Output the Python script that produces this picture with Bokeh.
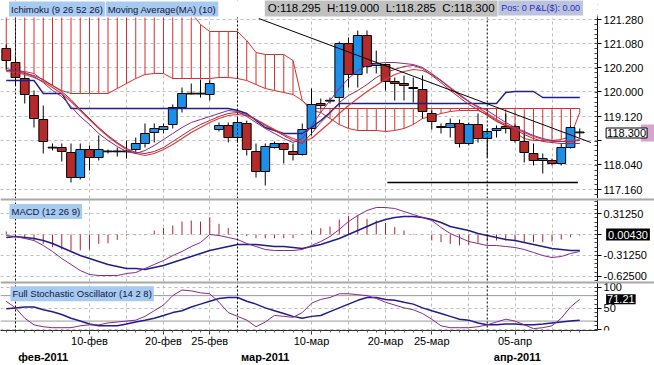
from bokeh.plotting import figure
from bokeh.models import Range1d, FixedTicker, Span, Label, BoxAnnotation, Grid, LinearAxis
from bokeh.layouts import column
from bokeh.embed import file_html
from bokeh.resources import INLINE

FONT = "Liberation Sans"

# ---------------- data (bar index 0 = 31 Jan 2011, 62 = 13 Apr 2011) ----------------
bars = list(range(63))

opens = [120.55, 120.20, 119.80, 119.375, 118.775, 118.075, 118.075, 117.95, 117.325, 118.025,
         117.825, 117.975, 117.98, 117.975, 118.025, 118.175, 118.45, 118.525, 118.65, 119.075,
         119.425, 119.42, 119.40, 118.525, 118.625, 118.325, 118.675, 117.975, 117.475, 118.075,
         118.175, 117.975, 117.90, 118.55, 119.175, 119.24, 119.325, 120.675, 119.90, 120.875,
         120.125, 120.15, 119.725, 119.675, 119.575, 119.525, 118.925, 118.60, 118.575, 118.675,
         118.175, 118.65, 118.30, 118.50, 118.60, 118.60, 118.225, 117.925, 117.75, 117.75,
         117.675, 118.075, 118.45]
highs = [120.65, 120.325, 119.95, 119.50, 119.125, 118.175, 118.175, 118.175, 118.175, 118.125,
         118.375, 118.025, 118.075, 118.25, 118.325, 118.675, 118.675, 118.675, 119.15, 119.575,
         119.675, 119.775, 119.775, 118.70, 118.70, 118.825, 118.75, 118.175, 118.175, 118.225,
         118.20, 118.175, 118.675, 119.55, 119.30, 119.325, 120.725, 120.825, 121.00, 121.00,
         120.50, 120.175, 119.825, 119.875, 119.825, 119.875, 119.00, 118.675, 118.80, 118.775,
         118.70, 118.925, 118.55, 118.625, 118.925, 118.65, 118.50, 118.175, 117.925, 117.80,
         118.175, 118.625, 118.55]
lows = [120.025, 119.625, 119.175, 118.575, 117.925, 118.00, 117.725, 117.20, 117.275, 117.50,
        117.75, 117.925, 117.85, 117.80, 117.95, 118.075, 118.20, 118.425, 118.55, 118.95,
        119.40, 119.325, 119.25, 118.475, 118.20, 118.20, 117.875, 117.325, 117.125, 118.05,
        117.675, 117.75, 117.875, 118.375, 119.05, 119.175, 119.075, 119.575, 119.575, 119.925,
        119.925, 119.50, 119.25, 119.25, 119.20, 118.80, 118.525, 118.425, 118.325, 118.075,
        118.125, 118.20, 117.825, 118.325, 118.425, 118.20, 117.70, 117.625, 117.425, 117.625,
        117.625, 118.05, 118.325]
closes = [120.25, 119.825, 119.40, 118.80, 118.225, 118.07, 117.975, 117.325, 118.025, 117.825,
          118.025, 117.98, 117.975, 117.98, 118.175, 118.425, 118.55, 118.60, 119.075, 119.425,
          119.42, 119.425, 119.675, 118.625, 118.325, 118.70, 118.025, 117.475, 118.10, 118.175,
          118.025, 117.90, 118.525, 119.15, 119.125, 119.25, 120.675, 119.90, 120.875, 120.10,
          120.175, 119.725, 119.675, 119.625, 119.55, 118.975, 118.725, 118.575, 118.675, 118.175,
          118.65, 118.30, 118.475, 118.55, 118.55, 118.25, 117.95, 117.75, 117.80, 117.675,
          118.075, 118.575, 118.455]

ma_fast = [120.05, 120.00, 119.95, 119.85, 119.70, 119.50, 119.35, 119.10, 118.85, 118.65,
           118.425, 118.25, 118.10, 117.975, 117.925, 118.00, 118.125, 118.275, 118.425, 118.575,
           118.70, 118.775, 118.85, 118.925, 119.00, 118.975, 118.85, 118.70, 118.55, 118.425,
           118.30, 118.20, 118.30, 118.625, 118.95, 119.25, 119.55, 119.80, 120.00, 120.125,
           120.175, 120.20, 120.20, 120.175, 120.15, 120.075, 119.925, 119.75, 119.55, 119.375,
           119.225, 119.10, 119.00, 118.85, 118.70, 118.575, 118.475, 118.375, 118.30, 118.25,
           118.225, 118.225, 118.25]
ma_mid = [120.00, 119.975, 119.925, 119.875, 119.775, 119.625, 119.475, 119.275, 119.025, 118.80,
          118.575, 118.375, 118.20, 118.05, 117.95, 117.925, 117.975, 118.075, 118.225, 118.375,
          118.525, 118.65, 118.75, 118.85, 118.925, 118.95, 118.90, 118.775, 118.625, 118.50,
          118.375, 118.25, 118.175, 118.425, 118.70, 118.925, 119.20, 119.375, 119.50, 119.65,
          119.825, 119.95, 120.025, 120.10, 120.125, 120.05, 119.875, 119.70, 119.50, 119.325,
          119.15, 119.025, 118.875, 118.725, 118.625, 118.525, 118.40, 118.30, 118.225, 118.20,
          118.175, 118.175, 118.175]
ma10 = [119.975, 119.95, 119.90, 119.825, 119.725, 119.575, 119.425, 119.225, 119.00, 118.775,
        118.55, 118.35, 118.175, 118.025, 117.925, 117.875, 117.925, 118.025, 118.15, 118.30,
        118.45, 118.575, 118.70, 118.80, 118.875, 118.90, 118.875, 118.775, 118.65, 118.525,
        118.40, 118.30, 118.225, 118.30, 118.50, 118.70, 118.925, 119.125, 119.30, 119.475,
        119.625, 119.775, 119.90, 119.975, 120.025, 120.00, 119.90, 119.75, 119.575, 119.40,
        119.225, 119.075, 118.925, 118.775, 118.65, 118.55, 118.45, 118.35, 118.275, 118.225,
        118.225, 118.25, 118.275]
kijun = [119.75, 119.75, 119.75, 119.75, 119.425, 119.425, 119.425, 119.05, 119.05, 119.05,
         119.05, 119.05, 119.05, 119.05, 119.05, 119.05, 119.05, 119.05, 119.05, 119.05,
         119.05, 119.05, 119.05, 119.05, 119.05, 119.00, 118.925, 118.75, 118.575, 118.50,
         118.425, 118.425, 118.425, 118.575, 118.75, 118.95, 119.175, 119.175, 119.175, 119.175,
         119.175, 119.175, 119.175, 119.175, 119.175, 119.175, 119.175, 119.175, 119.175, 119.175,
         119.175, 119.175, 119.175, 119.175, 119.45, 119.475, 119.475, 119.475, 119.325, 119.325,
         119.325, 119.325, 119.325]
span_a = [120.00, 120.00, 119.975, 119.925, 119.75, 119.625, 119.50, 119.425, 119.425, 119.425,
          119.425, 119.425, 119.55, 119.675, 119.80, 119.90, 119.925, 119.925, 119.80, 119.80,
          119.80, 119.80, 119.80, 119.825, 119.825, 119.80, 119.75, 119.65, 119.55, 119.50,
          119.45, 119.40, 119.25, 119.00, 118.95, 118.80, 118.65, 118.55, 118.50, 118.50,
          118.50, 118.475, 118.50, 118.55, 118.65, 118.80, 118.85, 118.925, 118.975, 119.00,
          119.00, 119.00, 118.90, 118.75, 118.60, 118.45, 118.30, 118.25, 118.25, 118.25,
          118.275, 118.35, 118.95]
span_b = [121.70, 121.70, 121.70, 121.70, 121.70, 121.70, 121.70, 121.70, 121.70, 121.70,
          121.70, 121.70, 121.70, 121.70, 121.70, 121.65, 121.65, 121.65, 121.60, 121.60,
          121.45, 121.15, 120.975, 120.975, 120.975, 120.975, 120.75, 120.45, 120.40, 120.40,
          120.40, 120.25, 119.25, 119.05, 119.05, 119.05, 119.05, 119.05, 119.05, 119.05,
          119.05, 119.05, 119.05, 119.05, 119.05, 119.05, 119.05, 119.05, 119.05, 119.05,
          119.05, 119.05, 119.05, 119.05, 119.05, 119.05, 119.05, 119.05, 119.05, 119.05,
          119.05, 119.05, 119.05]
trend_x = [27.3, 63.2]
trend_y = [121.30, 118.20]
support_x = [41.2, 61.8]
support_y = [117.20, 117.20]

macd_line = [-0.015, -0.03, -0.06, -0.09, -0.165, -0.255, -0.36, -0.45, -0.54, -0.60,
             -0.615, -0.615, -0.615, -0.585, -0.57, -0.51, -0.45, -0.39, -0.315, -0.255,
             -0.18, -0.12, 0.0, -0.015, -0.045, -0.075, -0.135, -0.18, -0.225, -0.24,
             -0.24, -0.24, -0.225, -0.165, -0.105, -0.03, 0.075, 0.195, 0.285, 0.36,
             0.405, 0.405, 0.39, 0.345, 0.30, 0.255, 0.21, 0.105, 0.015, -0.045,
             -0.105, -0.135, -0.165, -0.165, -0.18, -0.195, -0.225, -0.27, -0.315, -0.345,
             -0.33, -0.285, -0.255]
macd_signal = [-0.045, -0.03, -0.045, -0.06, -0.09, -0.135, -0.195, -0.255, -0.315, -0.36,
               -0.405, -0.45, -0.48, -0.51, -0.51, -0.525, -0.495, -0.465, -0.42, -0.375,
               -0.33, -0.285, -0.24, -0.21, -0.18, -0.15, -0.15, -0.15, -0.165, -0.18,
               -0.18, -0.195, -0.21, -0.18, -0.15, -0.105, -0.06, 0.0, 0.06, 0.12,
               0.18, 0.225, 0.255, 0.27, 0.27, 0.255, 0.225, 0.18, 0.12, 0.09,
               0.06, 0.015, -0.015, -0.045, -0.075, -0.09, -0.12, -0.15, -0.18, -0.21,
               -0.225, -0.24, -0.24]
macd_hist = [0.045, -0.025, -0.055, -0.09, -0.14, -0.19, -0.225, -0.24, -0.24, -0.225,
             -0.14, -0.13, -0.08, -0.015, -0.01, -0.01, 0.06, 0.095, 0.135, 0.195,
             0.21, 0.195, 0.26, 0.16, 0.095, -0.005, -0.025, -0.055, -0.055, -0.055,
             -0.055, -0.055, 0.01, 0.06, 0.095, 0.12, 0.225, 0.275, 0.295, 0.235,
             0.21, 0.175, 0.11, 0.06, 0.01, -0.005, -0.09, -0.115, -0.14, -0.165,
             -0.155, -0.125, -0.105, -0.09, -0.09, -0.105, -0.115, -0.115, -0.115, -0.105,
             -0.075, -0.04, -0.015]

stoch_k = [66.7, 51.1, 26.7, 11.1, 6.7, 4.4, 4.4, 4.4, 8.9, 11.1,
           11.1, 15.6, 17.8, 20.0, 22.2, 31.1, 44.4, 57.8, 80.0, 93.3,
           91.1, 86.7, 84.4, 64.4, 40.0, 31.1, 22.2, 6.7, 17.8, 33.3,
           31.1, 28.9, 40.0, 62.2, 71.1, 75.6, 84.4, 84.4, 82.2, 80.0,
           73.3, 64.4, 57.8, 51.1, 46.7, 37.8, 24.4, 8.9, 4.4, 4.4,
           4.4, 6.7, 11.1, 17.8, 24.4, 20.0, 11.1, 2.2, 4.4, 8.9,
           26.7, 53.3, 71.2]
stoch_d = [48.9, 51.1, 53.3, 53.3, 46.7, 42.2, 35.6, 26.7, 20.0, 13.3,
           8.9, 8.9, 8.9, 13.3, 17.8, 22.2, 26.7, 33.3, 40.0, 44.4,
           53.3, 60.0, 66.7, 73.3, 75.6, 75.6, 66.7, 60.0, 51.1, 44.4,
           37.8, 31.1, 26.7, 31.1, 33.3, 42.2, 51.1, 60.0, 68.9, 75.6,
           75.6, 71.1, 68.9, 64.4, 60.0, 51.1, 44.4, 37.8, 31.1, 24.4,
           22.2, 15.6, 11.1, 11.1, 13.3, 13.3, 11.1, 11.1, 13.3, 15.6,
           17.8, 20.0, 22.2]

price_ticks = [121.275, 120.675, 120.075, 119.475, 118.85, 118.25, 117.65, 117.025]
price_tick_labels = ["121.280", "121.080", "120.200", "120.000", "119.120", "", "118.040", "117.160"]
macd_ticks = [0.3125, 0.0, -0.3125, -0.625]
macd_tick_labels = ["0.31250", "", "-0.31250", "-0.62500"]
stoch_ticks = [0, 50, 100]
stoch_tick_labels = ["0", "50", "100"]

day_bars = [9, 17, 22, 33, 41, 46, 55]
day_labels = ["10-фев", "20-фев", "25-фев", "10-мар", "20-мар", "25-мар", "05-апр"]
month_label_bars = [4.0, 28.0, 55.25]
month_labels = ["фев-2011", "мар-2011", "апр-2011"]
month_start_bars = [1, 25, 52]
grid_bars = [9, 13, 17, 22, 33, 37, 41, 46, 50, 55, 59]

last_price_text = "118.300"
last_macd_text = "0.00430"
last_stoch_text = "71.21"
ohlc_text = "O:118.295\u00a0\u00a0H:119.000\u00a0\u00a0L:118.285\u00a0\u00a0C:118.300"
pos_text = "Pos: 0 P&L($): 0.00"

# ---------------- styling ----------------
RED = "#b52a2a"
BLUE = "#1e8fe8"
CLOUD = "#d2302e"
PURPLE = "#862a8c"
MAROON = "#9c2a3e"
MARED = "#e03c3c"
NAVY = "#1e1e8c"
GRIDC = "#bdbdbd"
SEP = "#a8a8a8"
TAG_BG = "#a6caf0"
TAG_FG = "#14143c"

W = 654
AXIS_AT = 63.92          # x position (in bars) of the price axis line
x_range = Range1d(-0.622, 70.08)


def panel(height, bottom, y_range, ticks, labels, minor, with_xaxis):
    p = figure(width=W, height=height, x_range=x_range, y_range=y_range,
               output_backend="svg", toolbar_location=None,
               x_axis_location="below" if with_xaxis else None,
               y_axis_location=None,
               min_border_left=0, min_border_right=0,
               min_border_top=0, min_border_bottom=bottom)
    p.outline_line_color = None
    p.background_fill_color = "white"
    p.border_fill_color = "white"
    p.center = [r for r in p.center if not isinstance(r, Grid)]
    p.add_layout(Grid(dimension=0, ticker=FixedTicker(ticks=grid_bars),
                      grid_line_color=GRIDC, grid_line_dash="3 3"))
    p.add_layout(Grid(dimension=1, ticker=FixedTicker(ticks=ticks),
                      grid_line_color=GRIDC, grid_line_dash="3 3"))
    # white background for the price-scale strip (covers the grid there)
    p.add_layout(BoxAnnotation(left=AXIS_AT, fill_color="white", fill_alpha=1.0,
                               line_color=None, level="underlay"))
    for m in month_start_bars:
        p.add_layout(Span(location=m, dimension="height", line_color="black",
                          line_dash="2 2", line_width=1))
    ax = LinearAxis(fixed_location=AXIS_AT,
                    ticker=FixedTicker(ticks=ticks, minor_ticks=minor),
                    major_label_overrides={t: s for t, s in zip(ticks, labels)},
                    axis_line_color="black", major_tick_line_color="black",
                    minor_tick_line_color="#404040",
                    major_tick_in=0, major_tick_out=4, minor_tick_in=3, minor_tick_out=0,
                    major_label_standoff=2, major_label_text_font=FONT,
                    major_label_text_font_size="11px", major_label_text_color="black")
    p.add_layout(ax, "right")
    return p, ax


def tag(p, x, y, text, bg=TAG_BG, fg=TAG_FG, size="9.5px", border=None, pad=2):
    p.add_layout(Label(x=x, y=y, text=text, text_font=FONT, text_font_size=size,
                       text_color=fg, text_baseline="middle", text_align="left",
                       background_fill_color=bg, border_line_color=border, padding=pad))


# ---------------- main price panel ----------------
minor_p = [121.275 - 0.1215 * k for k in range(-3, 38)]
main, main_ax = panel(198, 0, Range1d(116.80, 121.75), price_ticks, price_tick_labels, minor_p, False)
main_ax.bounds = (116.80, 121.375)

# Ichimoku cloud
main.segment(x0=bars, y0=span_a, x1=bars, y1=span_b, line_color=CLOUD, line_width=1)
main.line(bars, span_a, line_color=CLOUD, line_width=1)
main.line(bars, span_b, line_color=CLOUD, line_width=1)

# candles
body_top, body_bot, colors = [], [], []
for o, c in zip(opens, closes):
    t, b = max(o, c), min(o, c)
    if t - b < 0.02:
        mid = (t + b) / 2
        t, b = mid + 0.01, mid - 0.01
    body_top.append(t)
    body_bot.append(b)
    colors.append(BLUE if c > o else RED)
main.segment(x0=bars, y0=lows, x1=bars, y1=highs, line_color="black", line_width=1)
main.vbar(x=bars, width=0.95, top=body_top, bottom=body_bot,
          fill_color=colors, line_color="black", line_width=1)

# indicator lines
main.line(bars, kijun, line_color=NAVY, line_width=1.4)
main.line(bars, ma10, line_color=MARED, line_width=1.2)
main.line(bars, ma_mid, line_color=MAROON, line_width=1)
main.line(bars, ma_fast, line_color=PURPLE, line_width=1)
main.line(trend_x, trend_y, line_color="black", line_width=1)
main.line(support_x, support_y, line_color="black", line_width=1.5)

# header strip (plot area starts below it)
main.add_layout(BoxAnnotation(bottom=121.325, right=AXIS_AT, fill_color="white",
                              fill_alpha=1.0, line_color=None))
tag(main, 0.30, 121.5375, "Ichimoku (9 26 52 26)")
tag(main, 10.75, 121.5375, "Moving Average(MA) (10)")
tag(main, 27.95, 121.575, ohlc_text, bg="#c0c0c0", fg="black", size="11.5px", pad=3)
tag(main, 53.2, 121.575, pos_text, bg="#bcc4dc", fg="#2828c8", size="9px", pad=3)

# last price tag
main.add_layout(BoxAnnotation(left=68.6, bottom=118.225, top=118.65,
                              fill_color="#d6a4ce", fill_alpha=1.0, line_color=None))
tag(main, 64.85, 118.4375, last_price_text, bg="white", fg="black", size="11px",
    border="black", pad=1)

# ---------------- MACD panel ----------------
macd, _ = panel(83, 0, Range1d(-0.705, 0.54), macd_ticks, macd_tick_labels,
                [0.5 - 0.0625 * k for k in range(0, 20)], False)
macd.segment(x0=bars, y0=[0.0] * len(bars), x1=bars, y1=macd_hist, line_color="#b3202e", line_width=1)
macd.line(bars, macd_signal, line_color=NAVY, line_width=1.5)
macd.line(bars, macd_line, line_color=PURPLE, line_width=1)
macd.add_layout(Span(location=0.54, dimension="width", line_color=SEP, line_width=4))
tag(macd, 0.35, 0.345, "MACD (12 26 9)")
tag(macd, 64.85, 0.0, last_macd_text, bg="black", fg="white", size="11px", pad=2)

# ---------------- Stochastic panel ----------------
stoch, _ = panel(84, 32, Range1d(-2.2, 113.3), stoch_ticks, stoch_tick_labels,
                 [10 * k for k in range(0, 11)], True)
for lvl in (20, 80):
    stoch.add_layout(Span(location=lvl, dimension="width", line_color="#9a9a9a",
                          line_width=1, level="underlay"))
stoch.add_layout(BoxAnnotation(left=AXIS_AT, fill_color="white", fill_alpha=1.0,
                               line_color=None, level="underlay"))
stoch.line(bars, stoch_d, line_color=NAVY, line_width=1.5)
stoch.line(bars, stoch_k, line_color=PURPLE, line_width=1)
stoch.add_layout(Span(location=113.3, dimension="width", line_color=SEP, line_width=4))
tag(stoch, 0.45, 84.4, "Full Stochastic Oscillator (14 2 8)")
tag(stoch, 64.85, 71.21, last_stoch_text, bg="black", fg="white", size="11px", pad=1)

xa = stoch.xaxis[0]
xa.bounds = (-0.622, AXIS_AT)
xa.ticker = FixedTicker(ticks=day_bars, minor_ticks=bars)
xa.major_label_overrides = {b: s for b, s in zip(day_bars, day_labels)}
xa.axis_line_color = "#303030"
xa.major_tick_line_color = "#303030"
xa.minor_tick_line_color = "#606060"
xa.major_tick_in = 0
xa.major_tick_out = 4
xa.minor_tick_in = 0
xa.minor_tick_out = 2
xa.major_label_standoff = 0
xa.major_label_text_font = FONT
xa.major_label_text_font_size = "11px"
xa.major_label_text_color = "black"

mx = LinearAxis(ticker=FixedTicker(ticks=month_label_bars),
                major_label_overrides={b: s for b, s in zip(month_label_bars, month_labels)},
                axis_line_color=None, major_tick_line_color=None, minor_tick_line_color=None,
                major_tick_out=0, major_tick_in=0, minor_tick_out=0, minor_tick_in=0,
                major_label_standoff=1, major_label_text_font=FONT,
                major_label_text_font_size="11px", major_label_text_font_style="bold",
                major_label_text_color="black")
stoch.add_layout(mx, "below")

layout = column(main, macd, stoch, spacing=0)
open("out.html", "w").write(file_html(layout, INLINE))
